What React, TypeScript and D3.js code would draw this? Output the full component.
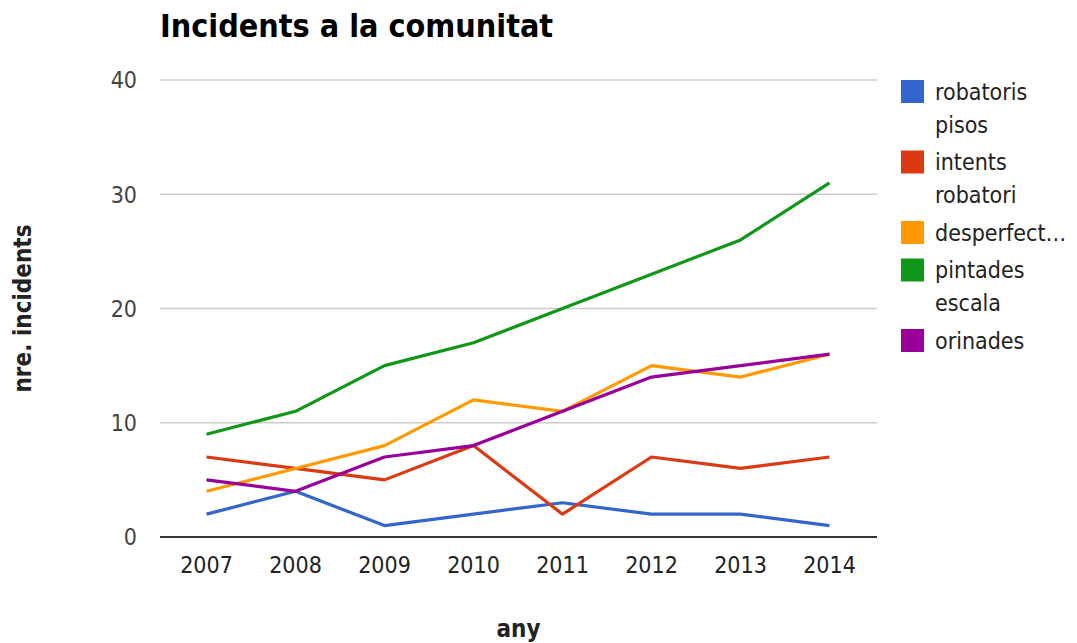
import * as d3 from "d3";
import { useEffect, useRef } from "react";

const years = ["2007", "2008", "2009", "2010", "2011", "2012", "2013", "2014"];
const robatorisPisos = [2, 4, 1, 2, 3, 2, 2, 1];
const intentsRobatori = [7, 6, 5, 8, 2, 7, 6, 7];
const desperfectes = [4, 6, 8, 12, 11, 15, 14, 16];
const pintadesEscala = [9, 11, 15, 17, 20, 23, 26, 31];
const orinades = [5, 4, 7, 8, 11, 14, 15, 16];
const yTicks = [0, 10, 20, 30, 40];

const seriesNames = [["robatoris", "pisos"], ["intents", "robatori"], ["desperfect…"], ["pintades", "escala"], ["orinades"]];
const seriesValues = [robatorisPisos, intentsRobatori, desperfectes, pintadesEscala, orinades];
const colors = ["#3366cc", "#dc3912", "#ff9900", "#109618", "#990099"];

const FONT = "'DejaVu Sans Condensed', 'DejaVu Sans', sans-serif";

function App() {
  const svgRef = useRef(null);

  useEffect(() => {
    const svg = d3.select(svgRef.current);
    svg.selectAll("*").remove();

    const left = 160, right = 877, top = 80, bottom = 537;

    const xScale = d3.scalePoint().domain(years).range([162, 874]).padding(0.5);
    const yScale = d3.scaleLinear().domain([0, 40]).range([bottom, top]);

    // gridlines
    svg.append("g")
      .selectAll("line")
      .data(yTicks.filter((t) => t !== 0))
      .join("line")
      .attr("x1", left)
      .attr("x2", right)
      .attr("y1", (d) => yScale(d))
      .attr("y2", (d) => yScale(d))
      .attr("stroke", "#cccccc")
      .attr("stroke-width", 1.5);

    // y labels
    svg.append("g")
      .selectAll("text")
      .data(yTicks)
      .join("text")
      .attr("x", 137)
      .attr("y", (d) => yScale(d))
      .attr("dy", "0.36em")
      .attr("text-anchor", "end")
      .attr("font-family", FONT)
      .attr("font-size", 23)
      .attr("fill", "#444444")
      .text((d) => d);

    // x labels
    svg.append("g")
      .selectAll("text")
      .data(years)
      .join("text")
      .attr("x", (d) => xScale(d))
      .attr("y", 573)
      .attr("text-anchor", "middle")
      .attr("font-family", FONT)
      .attr("font-size", 23)
      .attr("fill", "#222222")
      .text((d) => d);

    const line = d3.line<number>()
      .x((v, i) => xScale(years[i]) as number)
      .y((v) => yScale(v));

    svg.append("g")
      .selectAll("path")
      .data(seriesValues)
      .join("path")
      .attr("d", (v) => line(v))
      .attr("fill", "none")
      .attr("stroke", (v, i) => colors[i])
      .attr("stroke-width", 3.2)
      .attr("stroke-linejoin", "round");

    // baseline
    svg.append("line")
      .attr("x1", left)
      .attr("x2", right)
      .attr("y1", yScale(0))
      .attr("y2", yScale(0))
      .attr("stroke", "#333333")
      .attr("stroke-width", 2);

    // title
    svg.append("text")
      .attr("x", 160)
      .attr("y", 37)
      .attr("font-family", FONT)
      .attr("font-weight", "bold")
      .attr("font-size", 32)
      .attr("fill", "#000000")
      .text("Incidents a la comunitat");

    // axis titles
    svg.append("text")
      .attr("x", (left + right) / 2)
      .attr("y", 637)
      .attr("text-anchor", "middle")
      .attr("font-family", FONT)
      .attr("font-weight", "bold")
      .attr("font-size", 24)
      .attr("fill", "#222222")
      .text("any");

    svg.append("text")
      .attr("transform", `translate(31, ${(top + bottom) / 2}) rotate(-90)`)
      .attr("text-anchor", "middle")
      .attr("font-family", FONT)
      .attr("font-weight", "bold")
      .attr("font-size", 24)
      .attr("fill", "#222222")
      .text("nre. incidents");

    // legend
    const lineH = 33;
    let y0 = 80;
    seriesNames.forEach((lines, i) => {
      const g = svg.append("g").attr("transform", `translate(901, ${y0})`);
      g.append("rect")
        .attr("width", 23)
        .attr("height", 23)
        .attr("fill", colors[i]);
      lines.forEach((t, j) => {
        g.append("text")
          .attr("x", 34)
          .attr("y", 11.5 + j * lineH)
          .attr("dy", "0.36em")
          .attr("font-family", FONT)
          .attr("font-size", 23)
          .attr("fill", "#222222")
          .text(t);
      });
      y0 += lines.length * lineH + 4.5;
    });
  }, []);

  return (
    <svg ref={svgRef} width={1077} height={643}
      style={{ position: "absolute", left: 0, top: 0, background: "#ffffff" }}>
    </svg>
  );
}

export default App;
